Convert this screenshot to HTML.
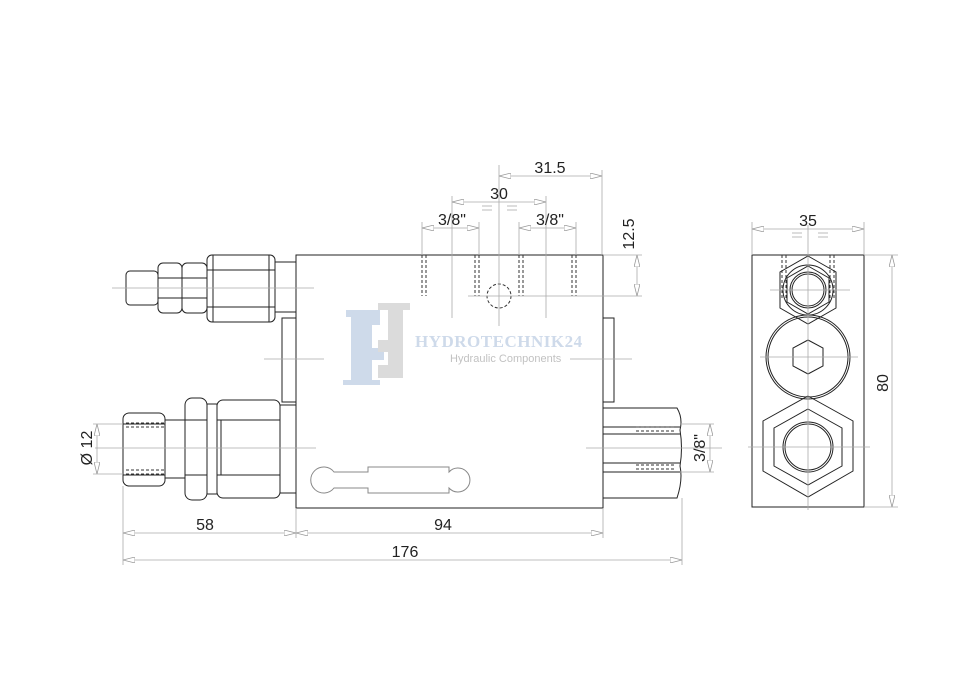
<!DOCTYPE html>
<html><head><meta charset="utf-8"><style>
html,body{margin:0;padding:0;background:#fff;}
svg{display:block;}
text{font-family:"Liberation Sans",sans-serif;fill:#222;}
</style></head><body>
<svg width="973" height="687" viewBox="0 0 973 687" xmlns="http://www.w3.org/2000/svg">
<defs>
<marker id="a" viewBox="0 0 12 6" refX="12" refY="3" markerWidth="12" markerHeight="6" orient="auto-start-reverse" markerUnits="userSpaceOnUse"><path d="M0,0 L12,3 L0,6 Z" fill="#fff" stroke="#999" stroke-width="0.8"/></marker>
</defs>
<!-- watermark -->
<g opacity="0.9">
<path d="M346 310 H380 V325 H372 V348 H384 V360 H372 V380 H380 V385 H343 V380 H351 V317 H346 Z" fill="#c9d6e8"/>
<path d="M378 303 H410 V310 H403 V378 H378 V365 H388 V352 H378 V340 H388 V310 H378 Z" fill="#d8d8d8"/>
<text x="415" y="347" font-size="17" font-weight="bold" style="fill:#c9d6e8;letter-spacing:0.5px;font-family:'Liberation Serif',serif">HYDROTECHNIK24</text>
<text x="450" y="362" font-size="11" style="fill:#bbb">Hydraulic Components</text>
</g>
<g fill="none" stroke="#222" stroke-width="1">
<!-- body -->
<rect x="296" y="255" width="307" height="253"/>
<rect x="282" y="318" width="14" height="84"/>
<rect x="603" y="318" width="11" height="84"/>
<!-- top-left fitting -->
<rect x="275" y="262" width="21" height="50"/>
<rect x="207" y="255" width="68" height="67" rx="5"/>
<line x1="207" y1="270" x2="275" y2="270"/><line x1="207" y1="307" x2="275" y2="307"/>
<line x1="213" y1="255" x2="213" y2="322"/><line x1="269" y1="255" x2="269" y2="322"/>
<rect x="182" y="263" width="25" height="50" rx="5"/>
<rect x="158" y="263" width="24" height="50" rx="5"/>
<line x1="158" y1="278" x2="207" y2="278"/><line x1="158" y1="298" x2="207" y2="298"/>
<rect x="126" y="271" width="32" height="34" rx="4"/>
<!-- bottom-left fitting -->
<rect x="280" y="405" width="16" height="88"/>
<rect x="217" y="400" width="63" height="98" rx="6"/>
<line x1="217" y1="420" x2="280" y2="420"/><line x1="217" y1="475" x2="280" y2="475"/>
<line x1="221" y1="420" x2="221" y2="475"/>
<rect x="207" y="404" width="10" height="90"/>
<rect x="185" y="398" width="22" height="102" rx="7"/>
<line x1="185" y1="420" x2="207" y2="420"/><line x1="185" y1="475" x2="207" y2="475"/>
<rect x="165" y="420" width="20" height="58"/>
<rect x="123" y="413" width="42" height="73" rx="6"/>
<line x1="123" y1="424" x2="165" y2="424"/><line x1="123" y1="475" x2="165" y2="475"/>
<!-- right fitting -->
<path d="M603 408 H677 Q683 418 680 430 Q683 448 680 466 Q683 480 677 498 H603"/>
<line x1="603" y1="427" x2="680" y2="427"/><line x1="603" y1="434" x2="680" y2="434"/>
<line x1="603" y1="463" x2="680" y2="463"/><line x1="603" y1="472" x2="680" y2="472"/>
<!-- side view -->
<rect x="752" y="255" width="112" height="252"/>
<polygon points="808,256 836,272 836,308 808,324 780,308 780,272"/>
<circle cx="808" cy="290" r="25"/>
<polygon points="808,266 829,278 829,302 808,314 787,302 787,278"/>
<circle cx="808" cy="290" r="18"/><circle cx="808" cy="290" r="16"/>
<circle cx="808" cy="357" r="42"/><circle cx="808" cy="357" r="40"/>
<polygon points="808,340 823,348 823,366 808,374 793,366 793,348"/>
<polygon points="808,396 853,421 853,471 808,497 763,471 763,421"/>
<polygon points="808,409 842,428 842,466 808,485 774,466 774,428"/>
<circle cx="808" cy="447" r="25"/><circle cx="808" cy="447" r="23"/>
</g>
<!-- slot -->
<g fill="none" stroke="#888" stroke-width="1">
<path d="M334 472 A13 13 0 1 0 334 488 H368 V493 H449 V488 A12 12 0 1 0 449 472 V467 H368 V472 Z"/>
</g>
<!-- dashed -->
<g fill="none" stroke="#333" stroke-width="1" stroke-dasharray="3,2">
<line x1="422" y1="255" x2="422" y2="296"/><line x1="426" y1="255" x2="426" y2="296"/>
<line x1="475" y1="255" x2="475" y2="296"/><line x1="479" y1="255" x2="479" y2="296"/>
<line x1="519" y1="255" x2="519" y2="296"/><line x1="523" y1="255" x2="523" y2="296"/>
<line x1="572" y1="255" x2="572" y2="296"/><line x1="576" y1="255" x2="576" y2="296"/>
<circle cx="499" cy="296" r="12"/>
<line x1="126" y1="423" x2="164" y2="423"/><line x1="126" y1="427" x2="164" y2="427"/>
<line x1="126" y1="470" x2="164" y2="470"/><line x1="126" y1="474" x2="164" y2="474"/>
<line x1="636" y1="427" x2="676" y2="427"/><line x1="636" y1="431" x2="676" y2="431"/>
<line x1="636" y1="465" x2="676" y2="465"/><line x1="636" y1="469" x2="676" y2="469"/>
<line x1="782" y1="255" x2="782" y2="300"/><line x1="786" y1="255" x2="786" y2="300"/>
<line x1="830" y1="255" x2="830" y2="300"/><line x1="834" y1="255" x2="834" y2="300"/>
</g>
<!-- centre / extension lines -->
<g stroke="#aaa" stroke-width="0.8" fill="none">
<line x1="112" y1="288" x2="314" y2="288"/>
<line x1="264" y1="359" x2="324" y2="359"/>
<line x1="95" y1="448" x2="316" y2="448"/>
<line x1="586" y1="448" x2="722" y2="448"/>
<line x1="570" y1="359" x2="632" y2="359"/>
<line x1="499" y1="165" x2="499" y2="326"/>
<line x1="452" y1="196" x2="452" y2="318"/><line x1="546" y1="196" x2="546" y2="318"/>
<line x1="422" y1="222" x2="422" y2="255"/><line x1="479" y1="222" x2="479" y2="255"/>
<line x1="519" y1="222" x2="519" y2="255"/><line x1="576" y1="222" x2="576" y2="255"/>
<line x1="602" y1="170" x2="602" y2="255"/>
<line x1="603" y1="255" x2="642" y2="255"/><line x1="468" y1="296" x2="642" y2="296"/>
<line x1="123" y1="486" x2="123" y2="565"/><line x1="296" y1="508" x2="296" y2="538"/>
<line x1="603" y1="508" x2="603" y2="538"/><line x1="682" y1="498" x2="682" y2="565"/>
<line x1="93" y1="424" x2="123" y2="424"/><line x1="93" y1="474" x2="123" y2="474"/>
<line x1="680" y1="424" x2="714" y2="424"/><line x1="680" y1="472" x2="714" y2="472"/>
<line x1="752" y1="222" x2="752" y2="255"/><line x1="864" y1="222" x2="864" y2="255"/>
<line x1="808" y1="225" x2="808" y2="510"/>
<line x1="770" y1="290" x2="850" y2="290"/><line x1="760" y1="357" x2="858" y2="357"/><line x1="748" y1="447" x2="870" y2="447"/>
<line x1="864" y1="255" x2="898" y2="255"/><line x1="864" y1="507" x2="898" y2="507"/>
</g>
<!-- dimension lines -->
<g stroke="#aaa" stroke-width="0.8" fill="none" marker-start="url(#a)" marker-end="url(#a)">
<line x1="499" y1="176" x2="602" y2="176"/>
<line x1="452" y1="202" x2="546" y2="202"/>
<line x1="422" y1="228" x2="479" y2="228"/>
<line x1="519" y1="228" x2="576" y2="228"/>
<line x1="637" y1="255" x2="637" y2="296"/>
<line x1="123" y1="533" x2="296" y2="533"/>
<line x1="296" y1="533" x2="603" y2="533"/>
<line x1="123" y1="560" x2="682" y2="560"/>
<line x1="97" y1="424" x2="97" y2="474"/>
<line x1="710" y1="424" x2="710" y2="472"/>
<line x1="752" y1="229" x2="864" y2="229"/>
<line x1="892" y1="255" x2="892" y2="507"/>
</g>
<g stroke="#aaa" stroke-width="0.8">
<line x1="482" y1="206" x2="492" y2="206"/><line x1="482" y1="210" x2="492" y2="210"/>
<line x1="507" y1="206" x2="517" y2="206"/><line x1="507" y1="210" x2="517" y2="210"/>
<line x1="792" y1="233" x2="802" y2="233"/><line x1="792" y1="237" x2="802" y2="237"/>
<line x1="818" y1="233" x2="828" y2="233"/><line x1="818" y1="237" x2="828" y2="237"/>
</g>
<g font-size="16">
<text x="550" y="173" text-anchor="middle">31.5</text>
<text x="499" y="199" text-anchor="middle">30</text>
<text x="452" y="225" text-anchor="middle">3/8"</text>
<text x="550" y="225" text-anchor="middle">3/8"</text>
<text x="205" y="530" text-anchor="middle">58</text>
<text x="443" y="530" text-anchor="middle">94</text>
<text x="405" y="557" text-anchor="middle">176</text>
<text x="808" y="226" text-anchor="middle">35</text>
<text transform="translate(634,234) rotate(-90)" text-anchor="middle">12.5</text>
<text transform="translate(92,448) rotate(-90)" text-anchor="middle">Ø 12</text>
<text transform="translate(705,448) rotate(-90)" text-anchor="middle">3/8"</text>
<text transform="translate(888,383) rotate(-90)" text-anchor="middle">80</text>
</g>
</svg>
</body></html>
